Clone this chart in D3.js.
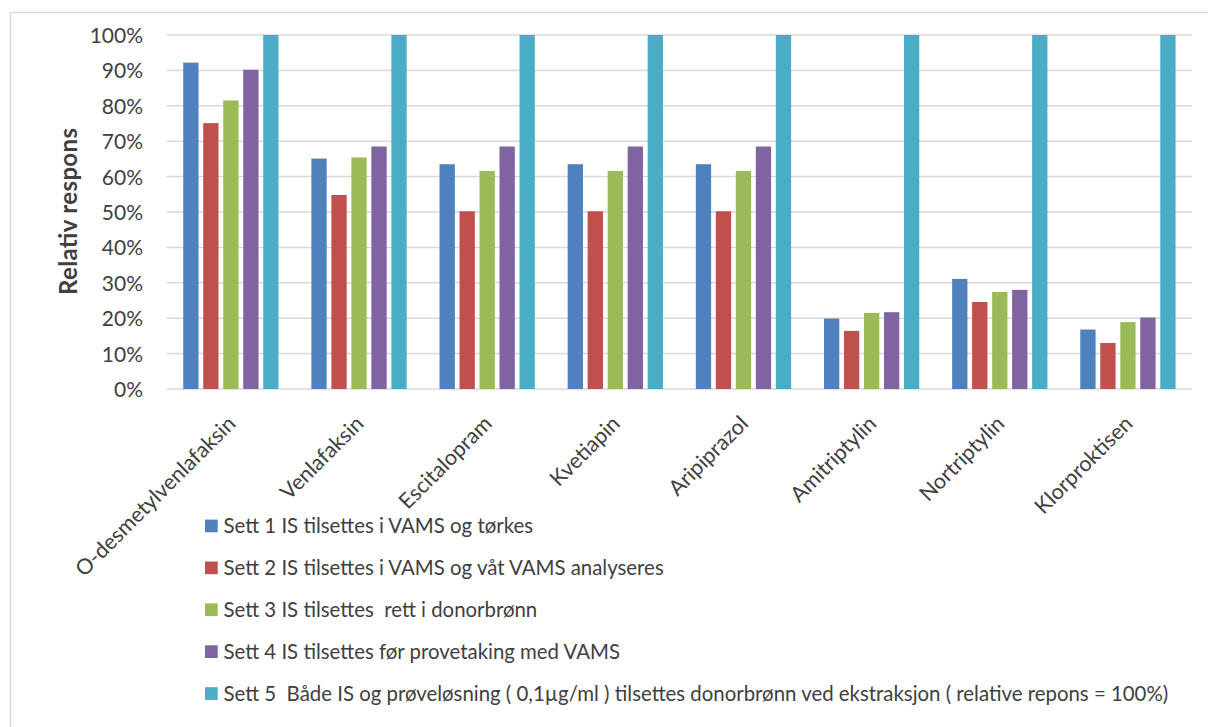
<!DOCTYPE html>
<html>
<head>
<meta charset="utf-8">
<script src="https://cdn.jsdelivr.net/npm/d3@7"></script>
<style>
  html, body { margin: 0; padding: 0; background: #fff; }
  svg { display: block; }
  text { font-family: Lato, "Open Sans", sans-serif; fill: #404040; white-space: pre; }
</style>
</head>
<body>
<svg id="chart" width="1208" height="727"></svg>
<script>
// Compounds on the x axis
const categories = [
  "O-desmetylvenlafaksin", "Venlafaksin", "Escitalopram", "Kvetiapin",
  "Aripiprazol", "Amitriptylin", "Nortriptylin", "Klorproktisen"
];

// Relative response (%) per series
const sett1 = [92.2, 65.1, 63.5, 63.5, 63.5, 19.9, 31.1, 16.8];
const sett2 = [75.1, 54.8, 50.2, 50.2, 50.2, 16.4, 24.6, 13.0];
const sett3 = [81.5, 65.4, 61.6, 61.6, 61.6, 21.5, 27.4, 18.9];
const sett4 = [90.2, 68.5, 68.5, 68.5, 68.5, 21.7, 28.0, 20.2];
const sett5 = [100, 100, 100, 100, 100, 100, 100, 100];

const seriesNames = [
  "Sett 1 IS tilsettes i VAMS og tørkes",
  "Sett 2 IS tilsettes i VAMS og våt VAMS analyseres",
  "Sett 3 IS tilsettes  rett i donorbrønn",
  "Sett 4 IS tilsettes før provetaking med VAMS",
  "Sett 5  Både IS og prøveløsning ( 0,1µg/ml ) tilsettes donorbrønn ved ekstraksjon ( relative repons = 100%)"
];
const seriesColors = ["#4F81BD", "#C0504D", "#9BBB59", "#8064A2", "#4BACC6"];

const yTicks = [0, 10, 20, 30, 40, 50, 60, 70, 80, 90, 100];

const seriesValues = [sett1, sett2, sett3, sett4, sett5];
const series = seriesNames.map((name, i) => ({ name, color: seriesColors[i], values: seriesValues[i] }));

const svg = d3.select("#chart");

// chart frame (top and left edges visible)
svg.append("line").attr("x1", 10).attr("y1", 12.5).attr("x2", 1208).attr("y2", 12.5)
  .attr("stroke", "#D9D9D9").attr("stroke-width", 1.5);
svg.append("line").attr("x1", 10.5).attr("y1", 12).attr("x2", 10.5).attr("y2", 727)
  .attr("stroke", "#D9D9D9").attr("stroke-width", 1.5);

const plot = { left: 166.8, right: 1192, top: 35, bottom: 389 };

const x0 = d3.scaleBand().domain(categories).range([plot.left, plot.right]).paddingInner(0).paddingOuter(0);
const step = x0.bandwidth();
const groupWidth = 95.3;
const x1 = d3.scaleBand().domain(d3.range(series.length))
  .range([(step - groupWidth) / 2, (step + groupWidth) / 2]).paddingInner(0.235).paddingOuter(0);
const y = d3.scaleLinear().domain([0, 100]).range([plot.bottom, plot.top]);

// gridlines
svg.append("g").selectAll("line").data(yTicks).join("line")
  .attr("x1", plot.left).attr("x2", plot.right)
  .attr("y1", d => y(d)).attr("y2", d => y(d))
  .attr("stroke", "#D9D9D9").attr("stroke-width", 1.5);

// y axis tick labels
const yAxis = d3.axisLeft(y).tickValues(yTicks).tickFormat(d => d + "%").tickSize(0).tickPadding(0);
const gy = svg.append("g").attr("transform", `translate(143,0)`).call(yAxis);
gy.select(".domain").remove();
gy.selectAll("text").attr("font-size", 21).attr("fill", "#404040")
  .style("font-family", "Lato, sans-serif").attr("dy", "0.36em");

// bars
const groups = svg.append("g").selectAll("g").data(categories).join("g")
  .attr("transform", d => `translate(${x0(d)},0)`);
groups.selectAll("rect")
  .data((c, ci) => series.map((s, si) => ({ si, v: s.values[ci], color: s.color })))
  .join("rect")
  .attr("x", d => x1(d.si))
  .attr("width", x1.bandwidth())
  .attr("y", d => y(d.v))
  .attr("height", d => y(0) - y(d.v))
  .attr("fill", d => d.color);

// x axis category labels, rotated
const xAxis = d3.axisBottom(x0).tickSize(0).tickPadding(0);
const gx = svg.append("g").attr("transform", `translate(0,${plot.bottom})`).call(xAxis);
gx.select(".domain").remove();
gx.selectAll(".tick text")
  .attr("font-size", 21.5).attr("fill", "#404040").style("font-family", "Lato, sans-serif")
  .attr("text-anchor", "end").attr("dy", 0).attr("y", 0)
  .attr("transform", "translate(6,36) rotate(-45)");

// y axis title
svg.append("text")
  .attr("transform", `translate(77,${(128 + 295) / 2}) rotate(-90)`)
  .attr("text-anchor", "middle")
  .attr("font-size", 24).attr("font-weight", "bold").attr("fill", "#404040")
  .attr("textLength", 167).attr("lengthAdjust", "spacing")
  .text("Relativ respons");

// legend
const legend = svg.append("g").selectAll("g").data(series).join("g")
  .attr("transform", (d, i) => `translate(205,${526 + i * 41.9})`);
legend.append("rect").attr("x", 0).attr("y", -6.4).attr("width", 12.7).attr("height", 12.7)
  .attr("fill", d => d.color);
legend.append("text").attr("x", 18.5).attr("y", 0).attr("dy", "0.36em")
  .attr("font-size", 20.4).attr("fill", "#404040")
  .attr("xml:space", "preserve")
  .text(d => d.name);
</script>
</body>
</html>
